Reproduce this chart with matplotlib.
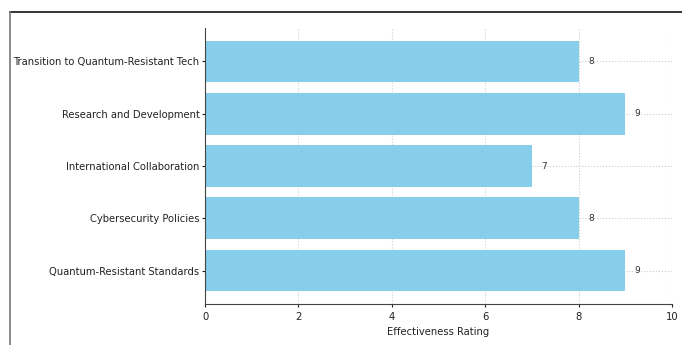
import matplotlib
matplotlib.use('Agg')
import matplotlib.pyplot as plt
from matplotlib.lines import Line2D

categories = ["Quantum-Resistant Standards", "Cybersecurity Policies",
              "International Collaboration", "Research and Development",
              "Transition to Quantum-Resistant Tech"]
ratings = [9, 8, 7, 9, 8]

fig = plt.figure(figsize=(6.82, 3.45), dpi=100)
ax = fig.add_axes([0.3006, 0.1188, 0.6847, 0.80])

bars = ax.barh(categories, ratings, height=0.8, color='skyblue', zorder=2)
for b, v in zip(bars, ratings):
    ax.text(v + 0.2, b.get_y() + b.get_height() / 2, str(v),
            va='center', ha='left', fontsize=6.5, color='#333333')

ax.set_xlim(0, 10)
ax.set_xlabel('Effectiveness Rating', fontsize=7.2, color='#222222', labelpad=3)
ax.tick_params(labelsize=7.2, colors='#222222', length=2.5)
ax.tick_params(axis='y', pad=1.5)
ax.grid(True, linestyle=':', color='#cccccc', linewidth=0.8, zorder=0)
for s in ['top', 'right']:
    ax.spines[s].set_visible(False)
for s in ['left', 'bottom']:
    ax.spines[s].set_color('#444444')

# frame lines around the figure
fig.add_artist(Line2D([10 / 682, 1], [1 - 11.5 / 345, 1 - 11.5 / 345],
                      transform=fig.transFigure, color='#111111', linewidth=1.2))
fig.add_artist(Line2D([10 / 682, 10 / 682], [0, 1 - 11.5 / 345],
                      transform=fig.transFigure, color='#777777', linewidth=1.2))

plt.savefig('out.png', dpi=100)
